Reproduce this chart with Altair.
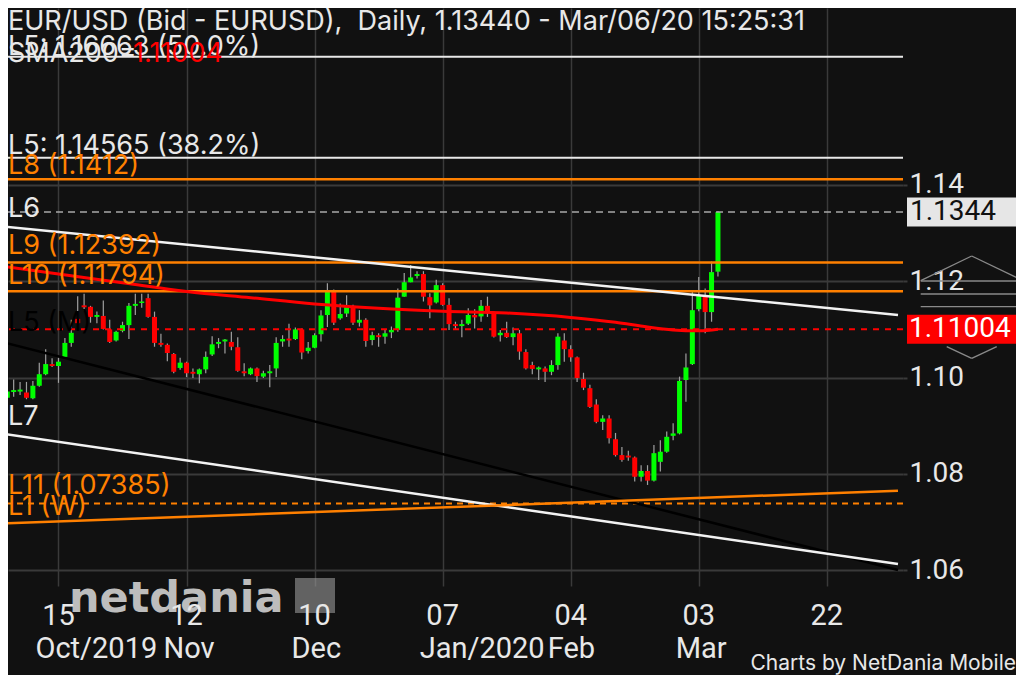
import altair as alt
import pandas as pd

# ---------------- data ----------------
day_index = list(range(-8, 104))  # trading-day index, 0 = 15 Oct 2019

opens = [
    1.0958, 1.0970, 1.0971, 1.0969, 1.0957, 1.0983, 1.1007, 1.1028,
    1.1024, 1.1043, 1.1072, 1.1122, 1.1150, 1.1147, 1.1126, 1.1128, 1.1100, 1.1077,
    1.1097, 1.1109, 1.1149, 1.1155, 1.1165, 1.1126, 1.1072, 1.1068, 1.1049, 1.1020,
    1.1031, 1.1012, 1.1007, 1.1017, 1.1048, 1.1070, 1.1075, 1.1074, 1.1063, 1.1013,
    1.1007, 1.1019, 1.1002, 1.1009, 1.1019, 1.1075, 1.1081, 1.1080, 1.1100, 1.1055,
    1.1062, 1.1090, 1.1130, 1.1180, 1.1123, 1.1133, 1.1149, 1.1114, 1.1120, 1.1078,
    1.1088, 1.1085, 1.1094, 1.1099, 1.1168, 1.1198, 1.1211, 1.1215, 1.1167, 1.1156,
    1.1192, 1.1151, 1.1111, 1.1107, 1.1112, 1.1130, 1.1127, 1.1149, 1.1134, 1.1088,
    1.1093, 1.1084, 1.1092, 1.1053, 1.1026, 1.1017, 1.1019, 1.1012, 1.1026, 1.1077,
    1.1059, 1.1042, 1.0997, 1.0978, 1.0944, 1.0908, 1.0915, 1.0872, 1.0839, 1.0838,
    1.0834, 1.0794, 1.0806, 1.0786, 1.0825, 1.0846, 1.0879, 1.0884, 1.0995, 1.1028,
    1.1142, 1.1170, 1.1136, 1.1220,
]
highs = [
    1.0997, 1.0996, 1.0991, 1.0991, 1.0993, 1.1031, 1.1059, 1.1040,
    1.1041, 1.1082, 1.1120, 1.1169, 1.1174, 1.1149, 1.1137, 1.1160, 1.1120, 1.1097,
    1.1116, 1.1155, 1.1174, 1.1174, 1.1174, 1.1137, 1.1091, 1.1071, 1.1051, 1.1041,
    1.1033, 1.1019, 1.1019, 1.1054, 1.1086, 1.1082, 1.1080, 1.1095, 1.1084, 1.1030,
    1.1021, 1.1021, 1.1014, 1.1026, 1.1084, 1.1088, 1.1112, 1.1104, 1.1102, 1.1074,
    1.1092, 1.1140, 1.1196, 1.1183, 1.1154, 1.1171, 1.1151, 1.1140, 1.1123, 1.1095,
    1.1092, 1.1099, 1.1106, 1.1185, 1.1217, 1.1234, 1.1221, 1.1221, 1.1175, 1.1203,
    1.1196, 1.1165, 1.1116, 1.1120, 1.1144, 1.1142, 1.1161, 1.1168, 1.1137, 1.1099,
    1.1116, 1.1104, 1.1099, 1.1059, 1.1033, 1.1023, 1.1023, 1.1036, 1.1092, 1.1092,
    1.1067, 1.1044, 1.1010, 1.0985, 1.0955, 1.0922, 1.0922, 1.0885, 1.0856, 1.0848,
    1.0836, 1.0818, 1.0818, 1.0860, 1.0870, 1.0888, 1.0905, 1.1002, 1.1050, 1.1182,
    1.1209, 1.1185, 1.1241, 1.1346,
]
lows = [
    1.0953, 1.0960, 1.0964, 1.0955, 1.0955, 1.0981, 1.1005, 1.1022,
    1.0989, 1.1039, 1.1064, 1.1112, 1.1140, 1.1114, 1.1113, 1.1100, 1.1072, 1.1075,
    1.1094, 1.1080, 1.1130, 1.1145, 1.1124, 1.1064, 1.1064, 1.1034, 1.1009, 1.1016,
    1.1001, 1.0999, 1.0988, 1.1009, 1.1045, 1.1061, 1.1050, 1.1057, 1.1012, 1.1003,
    1.1005, 1.0991, 1.0999, 1.0980, 1.1001, 1.1064, 1.1064, 1.1078, 1.1038, 1.1050,
    1.1061, 1.1075, 1.1105, 1.1109, 1.1120, 1.1126, 1.1109, 1.1106, 1.1064, 1.1067,
    1.1064, 1.1070, 1.1082, 1.1095, 1.1168, 1.1198, 1.1206, 1.1158, 1.1123, 1.1154,
    1.1149, 1.1099, 1.1099, 1.1084, 1.1109, 1.1102, 1.1116, 1.1126, 1.1083, 1.1075,
    1.1082, 1.1067, 1.1037, 1.1017, 1.1007, 1.0995, 1.0991, 1.1005, 1.1016, 1.1033,
    1.1033, 1.0991, 1.0974, 1.0937, 1.0905, 1.0891, 1.0863, 1.0836, 1.0825, 1.0827,
    1.0784, 1.0784, 1.0777, 1.0784, 1.0805, 1.0844, 1.0870, 1.0882, 1.0950, 1.1026,
    1.1138, 1.1092, 1.1116, 1.1210,
]
closes = [
    1.0971, 1.0974, 1.0975, 1.0958, 1.0983, 1.1007, 1.1028, 1.1024,
    1.1033, 1.1072, 1.1093, 1.1113, 1.1146, 1.1126, 1.1130, 1.1101, 1.1074, 1.1095,
    1.1109, 1.1149, 1.1153, 1.1158, 1.1126, 1.1072, 1.1068, 1.1051, 1.1012, 1.1031,
    1.1009, 1.1008, 1.1017, 1.1043, 1.1069, 1.1074, 1.1079, 1.1064, 1.1014, 1.1009,
    1.1019, 1.1003, 1.1009, 1.1013, 1.1072, 1.1080, 1.1077, 1.1100, 1.1052, 1.1062,
    1.1088, 1.1129, 1.1180, 1.1114, 1.1132, 1.1147, 1.1114, 1.1120, 1.1076, 1.1088,
    1.1084, 1.1092, 1.1099, 1.1166, 1.1198, 1.1208, 1.1215, 1.1168, 1.1150, 1.1192,
    1.1151, 1.1111, 1.1107, 1.1111, 1.1130, 1.1125, 1.1149, 1.1134, 1.1085, 1.1093,
    1.1084, 1.1092, 1.1054, 1.1019, 1.1018, 1.1021, 1.1012, 1.1026, 1.1085, 1.1059,
    1.1042, 1.0999, 1.0979, 1.0939, 1.0908, 1.0915, 1.0874, 1.0839, 1.0829, 1.0834,
    1.0794, 1.0806, 1.0786, 1.0843, 1.0846, 1.0877, 1.0884, 1.0993, 1.1021, 1.1140,
    1.1170, 1.1136, 1.1219, 1.1344,
]

sma_index = [-8, 0, 10, 20, 30, 40, 50, 60, 70, 80, 87, 92, 96, 100, 103]
sma_values = [1.1230, 1.1215, 1.1197, 1.1179, 1.1166, 1.1153, 1.1144, 1.1138,
              1.1134, 1.1125, 1.1115, 1.1105, 1.1099, 1.1097, 1.11004]

level_labels = ["L5: 1.16663 (50.0%)", "L5: 1.14565 (38.2%)", "L8 (1.1412)",
                "L9 (1.12392)", "L10 (1.11794)", "L11 (1.07385)"]
level_values = [1.16663, 1.14565, 1.1412, 1.12392, 1.11794, 1.07385]

trend_labels = ["L6", "L5 (M)", "L7", "L1 (W)"]
trend_start_index = [-8.34, -8.34, -8.34, -8.34]
trend_end_index = [131.12, 131.12, 131.12, 131.12]
trend_start_price = [1.13133, 1.10724, 1.08828, 1.06973]
trend_end_price = [1.11299, 1.06003, 1.06128, 1.07650]

tick_index = [0, 20, 40, 60, 80, 100, 120]
tick_days = ["15", "12", "10", "07", "04", "03", "22"]
month_index = [0, 20, 40, 60, 80, 100]
month_labels = ["Oct/2019", "Nov", "Dec", "Jan/2020", "Feb", "Mar"]

y_ticks = [1.06, 1.08, 1.10, 1.12, 1.14]
last_price = 1.1344
sma_last = 1.11004

title_text = "EUR/USD (Bid - EURUSD),\u00a0 Daily, 1.13440 - Mar/06/20 15:25:31"
sma_title = "SMA200="
logo_text = "netdania"
credit_text = "Charts by NetDania Mobile"

# ---------------- styling ----------------
FONT = "Inter"        # title and level labels
FS = 27
NFONT = "Roboto"      # axis numbers and price boxes
BG = "#111111"
GRID = "#3a3a3a"
WHITE = "#e8e8e8"
ORANGE = "#ff8000"
RED = "#ff0000"
GREEN = "#00ff00"
W, H = 895, 578
LX = 0  # left text anchor

xs = alt.Scale(domain=[-7.104, 131.12], nice=False, zero=False)
ys = alt.Scale(domain=[1.05671, 1.17676], nice=False, zero=False)

x_axis = alt.Axis(values=tick_index, grid=True, gridColor=GRID, gridWidth=1.5,
                  labels=False, ticks=False, domain=False, title=None)
y_axis = alt.Axis(orient="right", values=y_ticks, format=".2f", grid=True,
                  gridColor=GRID, gridWidth=2, ticks=True, tickSize=4,
                  tickColor=GRID, tickWidth=2, domain=False, title=None,
                  labelFont=NFONT, labelFontSize=28, labelColor=WHITE,
                  labelPadding=2, labelAlign="left", labelBaseline="middle",
                  labelOverlap=False, labelFlush=False)


def X(f):
    return alt.X(f, type="quantitative", scale=xs, axis=x_axis)


def Y(f):
    return alt.Y(f, type="quantitative", scale=ys, axis=y_axis)


def one(**cols):
    return pd.DataFrame({k: [v] for k, v in cols.items()})


df = pd.DataFrame({"i": day_index, "open": opens, "high": highs,
                   "low": lows, "close": closes})
df["dir"] = ["up" if c >= o else "down" for o, c in zip(opens, closes)]

layers = []

# wicks
layers.append(
    alt.Chart(df).mark_rule(color="#a0a0a0", strokeWidth=1.2, clip=True).encode(
        x=X("i"), y=Y("low"), y2=alt.Y2("high"))
)

# bodies
layers.append(
    alt.Chart(df).mark_bar(width=5, clip=True).encode(
        x=X("i"), y=Y("open"), y2=alt.Y2("close"),
        color=alt.Color("dir:N", scale=alt.Scale(domain=["up", "down"],
                                                 range=[GREEN, RED]),
                        legend=None),
    )
)

# horizontal levels
level_styles = [
    dict(color=WHITE, strokeWidth=2),
    dict(color=WHITE, strokeWidth=2),
    dict(color=ORANGE, strokeWidth=2.5),
    dict(color=ORANGE, strokeWidth=2.5),
    dict(color=ORANGE, strokeWidth=2.5),
    dict(color=ORANGE, strokeWidth=2, strokeDash=[6, 5]),
]
level_text_color = [WHITE, WHITE, ORANGE, ORANGE, ORANGE, ORANGE]
level_dy = [-2, -4, -5, -8, -7, -9]
for v, t, st in zip(level_values, level_labels, level_styles):
    layers.append(alt.Chart(one(v=v, t=t)).mark_rule(**st).encode(y=Y("v")))

# trendlines
trend_styles = [
    dict(color="#f2f2f2", strokeWidth=2.5),
    dict(color="#000000", strokeWidth=2.5),
    dict(color="#f2f2f2", strokeWidth=2.5),
    dict(color=ORANGE, strokeWidth=2.5),
]
for k in range(len(trend_labels)):
    d = pd.DataFrame({"i": [trend_start_index[k], trend_end_index[k]],
                      "p": [trend_start_price[k], trend_end_price[k]]})
    layers.append(alt.Chart(d).mark_line(clip=True, **trend_styles[k]).encode(
        x=X("i"), y=Y("p")))

# SMA200 curve
sma_df = pd.DataFrame({"i": sma_index, "p": sma_values})
layers.append(alt.Chart(sma_df).mark_line(color=RED, strokeWidth=3,
                                          interpolate="monotone", clip=True)
              .encode(x=X("i"), y=Y("p")))

# dashed current-price and SMA lines
layers.append(alt.Chart(one(v=last_price)).mark_rule(
    color="#a8a8a8", strokeWidth=1.5, strokeDash=[7, 5]).encode(y=Y("v")))
layers.append(alt.Chart(one(v=sma_last)).mark_rule(
    color=RED, strokeWidth=1.8, strokeDash=[6, 6]).encode(y=Y("v")))

# level labels
for v, t, tc, dy in zip(level_values, level_labels, level_text_color, level_dy):
    layers.append(alt.Chart(one(v=v, t=t)).mark_text(
        align="left", baseline="alphabetic", dy=dy, font=FONT, fontSize=FS,
        color=tc).encode(x=alt.value(LX), y=Y("v"), text="t:N"))

# trendline labels
trend_text_color = [WHITE, "#000000", WHITE, ORANGE]
trend_dy = [-10, -12, -9, -8]
for k in range(len(trend_labels)):
    layers.append(alt.Chart(one(v=trend_start_price[k], t=trend_labels[k]))
                  .mark_text(align="left", baseline="alphabetic",
                             dy=trend_dy[k], font=FONT, fontSize=FS,
                             color=trend_text_color[k])
                  .encode(x=alt.value(LX), y=Y("v"), text="t:N"))

# title & SMA header
layers.append(alt.Chart(one(t=title_text)).mark_text(
    align="left", baseline="alphabetic", font=FONT, fontSize=FS, color=WHITE
).encode(x=alt.value(LX), y=alt.value(22), text="t:N"))
layers.append(alt.Chart(one(t=sma_title)).mark_text(
    align="left", baseline="alphabetic", font=FONT, fontSize=FS, color=WHITE
).encode(x=alt.value(LX), y=alt.value(54), text="t:N"))
layers.append(alt.Chart(one(v=sma_last)).mark_text(
    align="left", baseline="alphabetic", font=FONT, fontSize=FS, color=RED
).encode(x=alt.value(125), y=alt.value(54), text=alt.Text("v:Q", format=".5f")))

# price boxes on the right
layers.append(alt.Chart(one(v=last_price)).mark_rect(
    color="#e6e6e6", yOffset=-14.5, y2Offset=14.5).encode(
    x=alt.value(899), x2=alt.value(1012), y=Y("v"), y2=alt.Y2("v")))
layers.append(alt.Chart(one(v=last_price)).mark_text(
    align="left", baseline="middle", font=NFONT, fontSize=28, color="#111111"
).encode(x=alt.value(902), y=Y("v"), text=alt.Text("v:Q", format=".4f")))
layers.append(alt.Chart(one(v=sma_last)).mark_rect(
    color=RED, yOffset=-14.5, y2Offset=14.5).encode(
    x=alt.value(899), x2=alt.value(1012), y=Y("v"), y2=alt.Y2("v")))
layers.append(alt.Chart(one(v=sma_last)).mark_text(
    align="left", baseline="middle", font=NFONT, fontSize=28, color="#ffffff"
).encode(x=alt.value(901), y=Y("v"), text=alt.Text("v:Q", format=".5f")))

# scroll widget decoration (right side)
widget = [
    (912.7, 272.7, 963.7, 248.0), (963.7, 248.0, 1015.0, 272.7),
    (912.7, 273.0, 1014.7, 273.0), (912.7, 286.0, 1014.7, 286.0),
    (912.7, 298.7, 1014.7, 298.7),
    (938.7, 338.7, 963.7, 350.3), (963.7, 350.3, 988.7, 338.7),
]
for (a, b, c, e) in widget:
    layers.append(alt.Chart(one(k=0)).mark_rule(color="#8a8a8a", strokeWidth=1.3)
                  .encode(x=alt.value(a), y=alt.value(b),
                          x2=alt.value(c), y2=alt.value(e)))

# watermark logo
layers.append(alt.Chart(one(k=0)).mark_rect(color="#9a9a9a", opacity=0.6).encode(
    x=alt.value(287), x2=alt.value(327), y=alt.value(570), y2=alt.value(605)))
layers.append(alt.Chart(one(t=logo_text)).mark_text(
    align="left", baseline="alphabetic", font="DejaVu Sans", fontSize=43,
    fontWeight="bold", color="#d0d0d0", opacity=0.9
).encode(x=alt.value(61), y=alt.value(604), text="t:N"))

# x axis labels (days and months)
days_df = pd.DataFrame({"i": tick_index, "t": tick_days})
layers.append(alt.Chart(days_df).mark_text(
    align="center", baseline="alphabetic", font=NFONT, fontSize=29, color=WHITE
).encode(x=X("i"), y=alt.value(617), text="t:N"))
months_df = pd.DataFrame({"i": month_index, "t": month_labels})
layers.append(alt.Chart(months_df).mark_text(
    align="left", baseline="alphabetic", dx=-23, font=NFONT, fontSize=29,
    color=WHITE).encode(x=X("i"), y=alt.value(650), text="t:N"))

# credit
layers.append(alt.Chart(one(t=credit_text)).mark_text(
    align="right", baseline="alphabetic", font=FONT, fontSize=21, color=WHITE
).encode(x=alt.value(1008), y=alt.value(662), text="t:N"))

chart = alt.layer(*layers).properties(
    width=W, height=H,
    padding={"left": 0, "top": 0, "right": 1008 - W, "bottom": 667 - H},
    autosize=alt.AutoSizeParams(type="none"),
).configure(background=BG).configure_view(strokeWidth=0)

chart.save("out.html", embed_options={"renderer": "svg", "actions": False})
